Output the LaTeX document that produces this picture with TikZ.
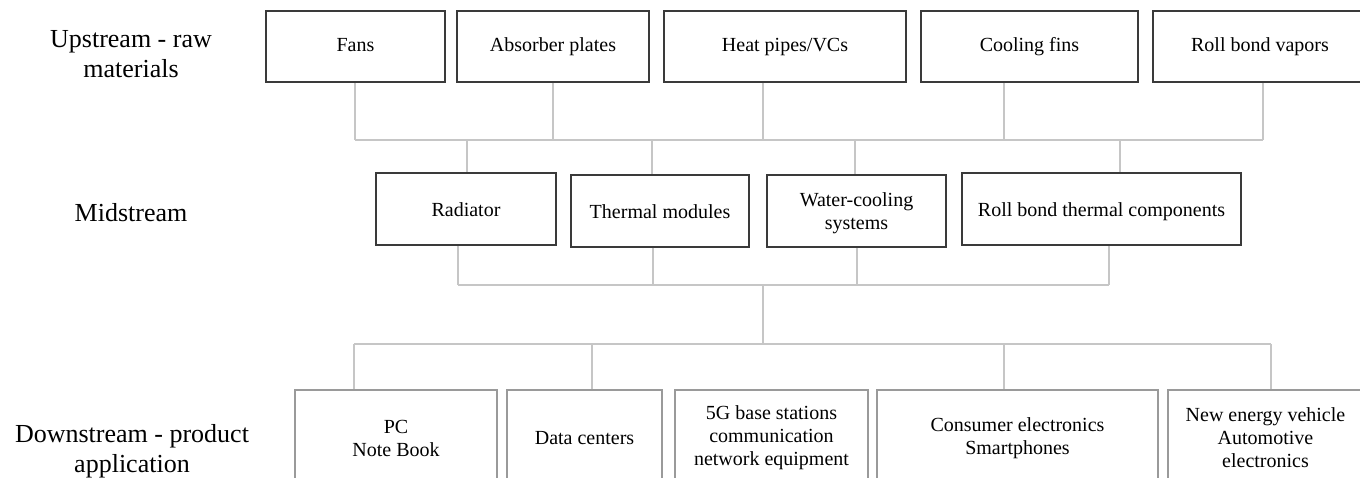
\documentclass[tikz,border=0pt]{standalone}
\usepackage{fontspec}
\setmainfont{Liberation Serif}
\definecolor{boxdark}{HTML}{3A3A3A}
\definecolor{boxgray}{HTML}{9A9A9A}
\definecolor{conngray}{HTML}{C6C6C6}
\begin{document}
\begin{tikzpicture}[x=1pt,y=-1pt,
  box/.style={draw=boxdark, line width=1.6pt, inner sep=0pt, align=center,
    font=\fontsize{20}{23}\selectfont},
  topbox/.style={box, minimum height=71pt, text height=15pt, text depth=5pt},
  midbox/.style={box, minimum height=72pt, text height=20pt, text depth=4pt},
  lowbox/.style={draw=boxgray, line width=1.6pt, inner sep=0pt, align=center,
    font=\fontsize{20}{23}\selectfont, minimum height=96pt},
  stage/.style={align=center, inner sep=0pt, font=\fontsize{26}{30}\selectfont},
  conn/.style={draw=conngray, line width=1.5pt}]
\useasboundingbox (0,0) rectangle (1360,478);
\clip (0,0) rectangle (1360,478);

% stage labels
\node[stage] (lup) at (131,54.5) {Upstream - raw\\materials};
\node[stage] (lmid) at (131,212.5) {Midstream};
\node[stage] (ldown) at (132,451.5) {Downstream - product\\application};

% upstream boxes
\node[topbox, minimum width=179pt] (fans) at (355.5,46.5) {Fans};
\node[topbox, minimum width=192pt] (abs) at (553,46.5) {Absorber plates};
\node[topbox, minimum width=242pt] (hp) at (785,46.5) {Heat pipes/VCs};
\node[topbox, minimum width=217pt] (cf) at (1029.5,46.5) {Cooling fins};
\node[topbox, minimum width=214pt] (rbv) at (1260,46.5) {Roll bond vapors};

% midstream boxes
\node[midbox, minimum width=180pt] (rad) at (466,209) {Radiator};
\node[midbox, minimum width=178pt] (tm) at (660,211) {Thermal modules};
\node[box, minimum width=179pt, minimum height=72pt] (wc) at (856.5,211) {\rule{0pt}{19pt}Water-cooling\\systems};
\node[midbox, minimum width=279pt] (rbt) at (1101.5,209) {Roll bond thermal components};

% downstream boxes
\node[lowbox, minimum width=202pt] (pc) at (396,438) {PC\\Note Book};
\node[lowbox, minimum width=155pt] (dc) at (584.5,438) {Data centers};
\node[lowbox, minimum width=193pt] (g5) at (771.5,438) {5G base stations\\communication\\network equipment};
\node[lowbox, minimum width=281pt] (ce) at (1017.5,438) {Consumer electronics\\Smartphones};
\node[lowbox, minimum width=195pt] (ne) at (1265.5,438) {New energy vehicle\\Automotive\\electronics};

% junction coordinates
\coordinate (u1) at (355,140);
\coordinate (u2) at (553,140);
\coordinate (u3) at (763,140);
\coordinate (u4) at (1004,140);
\coordinate (u5) at (1263,140);
\coordinate (m1) at (467,140);
\coordinate (m2) at (652,140);
\coordinate (m3) at (855,140);
\coordinate (m4) at (1120,140);
\coordinate (l1) at (458,285);
\coordinate (l2) at (653,285);
\coordinate (l3) at (857,285);
\coordinate (l4) at (1109,285);
\coordinate (lc) at (763,285);
\coordinate (d0) at (763,344);
\coordinate (d1) at (354,344);
\coordinate (d2) at (592,344);
\coordinate (d4) at (1004,344);
\coordinate (d5) at (1271,344);

% upstream to bus
\draw[conn] (fans.south -| u1) -- (u1);
\draw[conn] (abs.south -| u2) -- (u2);
\draw[conn] (hp.south -| u3) -- (u3);
\draw[conn] (cf.south -| u4) -- (u4);
\draw[conn] (rbv.south -| u5) -- (u5);
\draw[conn] (u1) -- (u5);
% bus to midstream
\draw[conn] (m1) -- (rad.north -| m1);
\draw[conn] (m2) -- (tm.north -| m2);
\draw[conn] (m3) -- (wc.north -| m3);
\draw[conn] (m4) -- (rbt.north -| m4);
% midstream to bus
\draw[conn] (rad.south -| l1) -- (l1);
\draw[conn] (tm.south -| l2) -- (l2);
\draw[conn] (wc.south -| l3) -- (l3);
\draw[conn] (rbt.south -| l4) -- (l4);
\draw[conn] (l1) -- (l4);
\draw[conn] (lc) -- (d0);
% downstream bus
\draw[conn] (d1) -- (d5);
\draw[conn] (d1) -- (pc.north -| d1);
\draw[conn] (d2) -- (dc.north -| d2);
\draw[conn] (d4) -- (ce.north -| d4);
\draw[conn] (d5) -- (ne.north -| d5);
\end{tikzpicture}
\end{document}
